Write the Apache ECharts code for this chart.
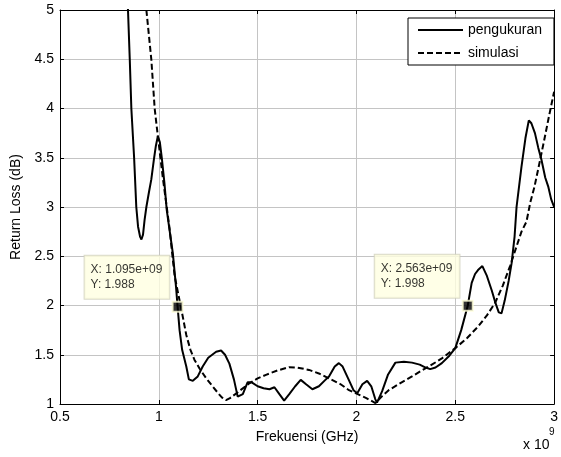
<!DOCTYPE html>
<html>
<head>
<meta charset="utf-8">
<script src="https://cdn.jsdelivr.net/npm/echarts@6/dist/echarts.min.js"></script>
<style>
  html, body { margin: 0; padding: 0; background: #fff; }
  #chart { width: 561px; height: 457px; }
</style>
</head>
<body>
<div id="chart"></div>
<script>
// Measured return loss: [frequency (GHz), return loss (dB)]
const measured = [
  [0.840,5.30],[0.844,5.00],[0.853,4.50],[0.861,4.00],[0.875,3.50],[0.886,3.00],[0.895,2.80],
  [0.905,2.70],[0.912,2.67],[0.920,2.72],[0.928,2.87],[0.937,3.00],[0.950,3.15],[0.962,3.28],
  [0.975,3.48],[0.985,3.62],[0.995,3.72],[1.005,3.66],[1.015,3.50],[1.028,3.25],[1.040,2.97],
  [1.054,2.77],[1.071,2.53],[1.087,2.19],[1.095,1.988],[1.105,1.75],[1.118,1.55],[1.139,1.38],
  [1.152,1.25],[1.172,1.235],[1.197,1.28],[1.222,1.38],[1.250,1.47],[1.290,1.53],[1.315,1.543],
  [1.335,1.50],[1.357,1.41],[1.380,1.25],[1.399,1.075],[1.407,1.06],[1.425,1.10],[1.449,1.22],
  [1.470,1.22],[1.500,1.18],[1.530,1.16],[1.560,1.15],[1.585,1.17],[1.610,1.10],[1.634,1.035],
  [1.660,1.10],[1.690,1.18],[1.718,1.245],[1.745,1.20],[1.777,1.15],[1.810,1.18],[1.840,1.24],
  [1.861,1.28],[1.890,1.38],[1.911,1.415],[1.930,1.38],[1.960,1.25],[1.985,1.14],[2.004,1.11],
  [2.030,1.20],[2.054,1.235],[2.075,1.18],[2.095,1.05],[2.104,1.014],[2.130,1.13],[2.160,1.30],
  [2.197,1.42],[2.240,1.43],[2.281,1.42],[2.320,1.40],[2.350,1.37],[2.373,1.354],[2.400,1.37],
  [2.432,1.415],[2.470,1.49],[2.500,1.567],[2.530,1.75],[2.563,1.998],[2.583,2.23],[2.600,2.32],
  [2.615,2.36],[2.637,2.40],[2.660,2.30],[2.685,2.15],[2.701,2.04],[2.720,1.93],[2.734,1.92],
  [2.750,2.05],[2.770,2.25],[2.785,2.43],[2.800,2.70],[2.810,3.00],[2.835,3.41],[2.855,3.70],
  [2.872,3.88],[2.885,3.85],[2.903,3.75],[2.920,3.60],[2.936,3.48],[2.955,3.30],[2.970,3.21],
  [2.985,3.08],[3.000,3.00]
];

// Simulated return loss: [frequency (GHz), return loss (dB)]
const simulated = [
  [0.937,5.00],[0.962,4.50],[0.979,4.00],[0.995,3.72],[1.020,3.30],[1.040,3.00],[1.055,2.77],
  [1.068,2.52],[1.080,2.30],[1.100,2.10],[1.118,1.92],[1.139,1.70],[1.160,1.55],[1.180,1.45],
  [1.206,1.36],[1.240,1.26],[1.273,1.177],[1.300,1.11],[1.320,1.065],[1.340,1.04],[1.360,1.06],
  [1.400,1.12],[1.458,1.21],[1.500,1.26],[1.542,1.296],[1.600,1.34],[1.659,1.374],[1.700,1.37],
  [1.760,1.346],[1.810,1.31],[1.861,1.26],[1.920,1.20],[1.962,1.14],[1.995,1.11],[2.050,1.06],
  [2.096,1.01],[2.130,1.08],[2.163,1.14],[2.220,1.21],[2.281,1.28],[2.330,1.34],[2.365,1.38],
  [2.430,1.46],[2.500,1.567],[2.560,1.67],[2.617,1.79],[2.660,1.90],[2.701,2.025],[2.740,2.20],
  [2.777,2.40],[2.810,2.60],[2.835,2.75],[2.860,2.85],[2.880,3.05],[2.900,3.20],[2.919,3.38],
  [2.950,3.68],[2.975,3.93],[3.000,4.17]
];

// Data cursor points on the measured curve
const tipFreq = [1.095, 2.563];   // GHz
const tipLoss = [1.988, 1.998];   // dB

const seriesNames = ['pengukuran', 'simulasi'];

const FONT = '"Liberation Sans", Arial, Helvetica, sans-serif';
const chart = echarts.init(document.getElementById('chart'), null, { renderer: 'canvas' });

const tickStyle = { show: true, inside: true, length: 4, lineStyle: { color: '#000', width: 1 } };

chart.setOption({
  animation: false,
  backgroundColor: '#fff',
  textStyle: { fontFamily: FONT },
  grid: { left: 60, top: 10, width: 496, height: 394, containLabel: false },
  legend: {
    data: seriesNames,
    orient: 'vertical',
    left: 408,
    top: 18,
    align: 'left',
    itemWidth: 45,
    itemHeight: 14,
    itemGap: 9,
    padding: [5, 12, 5, 9],
    backgroundColor: '#fff',
    borderColor: '#000',
    borderWidth: 1,
    // line samples only, no point symbol
    itemStyle: { opacity: 0, borderWidth: 0 },
    textStyle: { fontFamily: FONT, fontSize: 14, color: '#000' }
  },
  xAxis: [
    {
      type: 'value', min: 0.5, max: 3, interval: 0.5,
      name: 'Frekuensi (GHz)', nameLocation: 'middle', nameGap: 26,
      nameTextStyle: { fontFamily: FONT, fontSize: 14, color: '#000' },
      axisLine: { show: true, onZero: false, lineStyle: { color: '#000', width: 1 } },
      axisTick: tickStyle,
      axisLabel: { fontFamily: FONT, fontSize: 14, color: '#000', margin: 6 },
      splitLine: { show: true, lineStyle: { color: '#c4c4c4', width: 1 } }
    },
    {
      type: 'value', position: 'top', min: 0.5, max: 3, interval: 0.5,
      axisLine: { show: true, onZero: false, lineStyle: { color: '#000', width: 1 } },
      axisTick: tickStyle, axisLabel: { show: false }, splitLine: { show: false }
    }
  ],
  yAxis: [
    {
      type: 'value', min: 1, max: 5, interval: 0.5,
      name: 'Return Loss (dB)', nameLocation: 'middle', nameGap: 36,
      nameTextStyle: { fontFamily: FONT, fontSize: 14, color: '#000' },
      axisLine: { show: true, onZero: false, lineStyle: { color: '#000', width: 1 } },
      axisTick: tickStyle,
      axisLabel: { fontFamily: FONT, fontSize: 14, color: '#000', margin: 6 },
      splitLine: { show: true, lineStyle: { color: '#c4c4c4', width: 1 } }
    },
    {
      type: 'value', position: 'right', min: 1, max: 5, interval: 0.5,
      axisLine: { show: true, onZero: false, lineStyle: { color: '#000', width: 1 } },
      axisTick: tickStyle, axisLabel: { show: false }, splitLine: { show: false }
    }
  ],
  series: [
    {
      name: seriesNames[0], type: 'line', data: measured,
      symbol: 'none', clip: true, z: 3,
      lineStyle: { color: '#000', width: 2, type: 'solid' },
      itemStyle: { color: '#000' }
    },
    {
      name: seriesNames[1], type: 'line', data: simulated,
      symbol: 'none', clip: true, z: 2,
      lineStyle: { color: '#000', width: 2, type: [6, 3] },
      itemStyle: { color: '#000' }
    },
    {
      name: 'datatip', type: 'scatter', z: 5,
      data: tipFreq.map((f, i) => [f, tipLoss[i]]),
      symbol: 'rect', symbolSize: 10,
      itemStyle: { color: '#000', borderColor: '#ffffd8', borderWidth: 2 },
      label: {
        show: true,
        position: [-87, -45],
        align: 'left',
        verticalAlign: 'top',
        formatter: p => 'X: ' + p.value[0].toFixed(3) + 'e+09\nY: ' + p.value[1].toFixed(3),
        fontFamily: FONT, fontSize: 12, color: '#000',
        lineHeight: 15.5,
        backgroundColor: '#ffffe1',
        borderColor: '#cfcfbc',
        borderWidth: 1,
        padding: [6, 7, 6, 6]
      },
      emphasis: { disabled: true }
    }
  ],
  graphic: [
    {
      type: 'text', left: 523, top: 438,
      style: { text: 'x 10', font: '14px ' + FONT, fill: '#000' }
    },
    {
      type: 'text', left: 549, top: 427,
      style: { text: '9', font: '10px ' + FONT, fill: '#000' }
    }
  ]
});
</script>
</body>
</html>
